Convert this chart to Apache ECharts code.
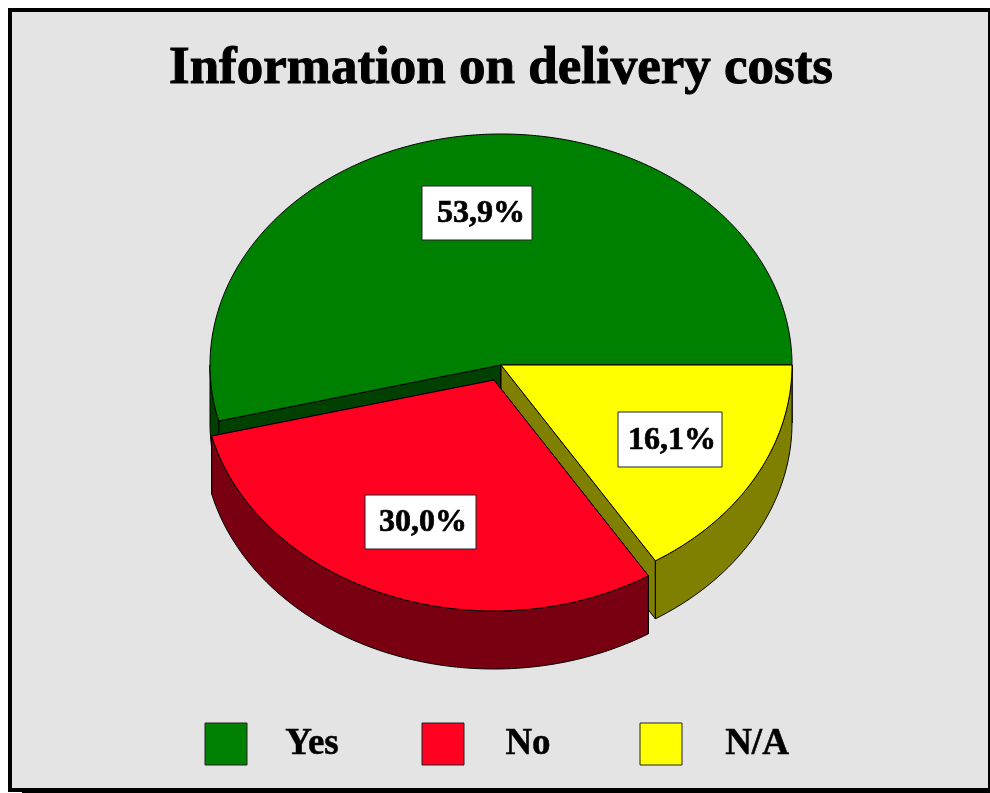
<!DOCTYPE html>
<html><head><meta charset="utf-8">
<style>html,body{margin:0;padding:0;background:#fff;overflow:hidden}#c{width:990px;height:793px}</style>
<script src="https://cdn.jsdelivr.net/npm/echarts@6/dist/echarts.min.js"></script>
</head><body><div id="c"></div>
<script>
const categories = ['Yes','No','N/A'];
const values = [53.9,30.0,16.1];
const labels = ['53,9%','30,0%','16,1%'];
const titleText = 'Information on delivery costs';
const FONT = '"Liberation Serif","Times New Roman",serif';
const colors = ['#008000','#ff0020','#ffff00'];
const wallColors = ['#004000','#780010','#808000'];

// pie layout in pixels
const CX=501, CY=365, RX=291, RY=231, DEPTH=58;
const explode = [[0,0],[-7,15],[0,0]];
const labelBox = [[422,186,110,54],[365,495,111,54],[618,412,104,55]];
const labelTextX = [481,423,672];
const legendBoxX = [205,422,640];
const legendTextX = [312,528,757];
const total = values.reduce((a,b)=>a+b,0);
// Slices run clockwise from due east, N/A first, then No, then Yes.
const spans = (function(){
  let a=0; const out=[];
  [2,1,0].forEach(i=>{const s=a; a+=values[i]/total*Math.PI*2; out[i]=[s,a];});
  return out;
})();
function P(i,t,dz){return [CX+explode[i][0]+RX*Math.cos(t), CY+explode[i][1]+RY*Math.sin(t)+(dz||0)];}
function arc(i,a,b,dz){const n=Math.max(2,Math.ceil(Math.abs(b-a)/0.01));const r=[];for(let k=0;k<=n;k++)r.push(P(i,a+(b-a)*k/n,dz));return r;}
function apex(i,dz){return [CX+explode[i][0],CY+explode[i][1]+(dz||0)];}
const line={stroke:'#000',lineWidth:1};
function poly(points,fill){return {type:'polygon',shape:{points},style:Object.assign({fill},line)};}

function sliceShapes(i){
  const [a,b]=spans[i]; const w=wallColors[i], out=[];
  // radial cut walls visible from the front
  [a,b].forEach(t=>{
    out.push(poly([apex(i),P(i,t),P(i,t,DEPTH),apex(i,DEPTH)],w));
  });
  // outer rim: front-facing part only
  const ra=Math.max(a,0), rb=Math.min(b,Math.PI);
  if(rb>ra){
    out.push(poly(arc(i,ra,rb,0).concat(arc(i,rb,ra,DEPTH)),w));
  }
  out.push(poly([apex(i)].concat(arc(i,a,b,0)),colors[i]));
  return out;
}

const chart=echarts.init(document.getElementById('c'),null,{renderer:'canvas'});
const drawOrder=[0,2,1];
chart.setOption({
  animation:false,
  backgroundColor:'#fff',
  graphic:[
    {type:'rect',z:0,shape:{x:10,y:10,width:980,height:780},style:{fill:'#e4e4e4',stroke:'#000',lineWidth:4}},
    {type:'rect',z:0,shape:{x:22,y:790,width:968,height:3},style:{fill:'#000'}}
  ],
  title:{text:titleText,left:169,top:43,padding:0,
    textStyle:{fontFamily:FONT,fontWeight:'bold',fontSize:53,color:'#000',textBorderColor:'#000',textBorderWidth:1}},
  series:[
    {type:'custom',coordinateSystem:'none',z:2,silent:true,
     data:drawOrder.map(i=>({value:values[i],name:categories[i]})),
     renderItem:(p)=>({type:'group',children:sliceShapes(drawOrder[p.dataIndex])})},
    {type:'custom',coordinateSystem:'none',z:3,silent:true,
     data:values.map((v,i)=>({value:v,name:labels[i]})),
     renderItem:(p)=>{
       const i=p.dataIndex,[x,y,w,h]=labelBox[i];
       return {type:'group',children:[
         {type:'rect',shape:{x,y,width:w,height:h},style:{fill:'#fff',stroke:'#222',lineWidth:1}},
         {type:'text',style:{x:labelTextX[i],y:y+h/2+1,text:labels[i],align:'center',verticalAlign:'middle',fontFamily:FONT,fontWeight:'bold',fontSize:32,fill:'#000',stroke:'#000',lineWidth:0.7}}
       ]};
     }},
    {type:'custom',coordinateSystem:'none',z:3,silent:true,
     data:categories.map(c=>({value:0,name:c})),
     renderItem:(p)=>{
       const i=p.dataIndex;
       return {type:'group',children:[
         {type:'rect',shape:{x:legendBoxX[i],y:723,width:42,height:42},style:{fill:colors[i],stroke:'#222',lineWidth:1}},
         {type:'text',style:{x:legendTextX[i],y:744,text:categories[i],align:'center',verticalAlign:'middle',fontFamily:FONT,fontWeight:'bold',fontSize:37,fill:'#000',stroke:'#000',lineWidth:0.5}}
       ]};
     }}
  ]
});
</script></body></html>
